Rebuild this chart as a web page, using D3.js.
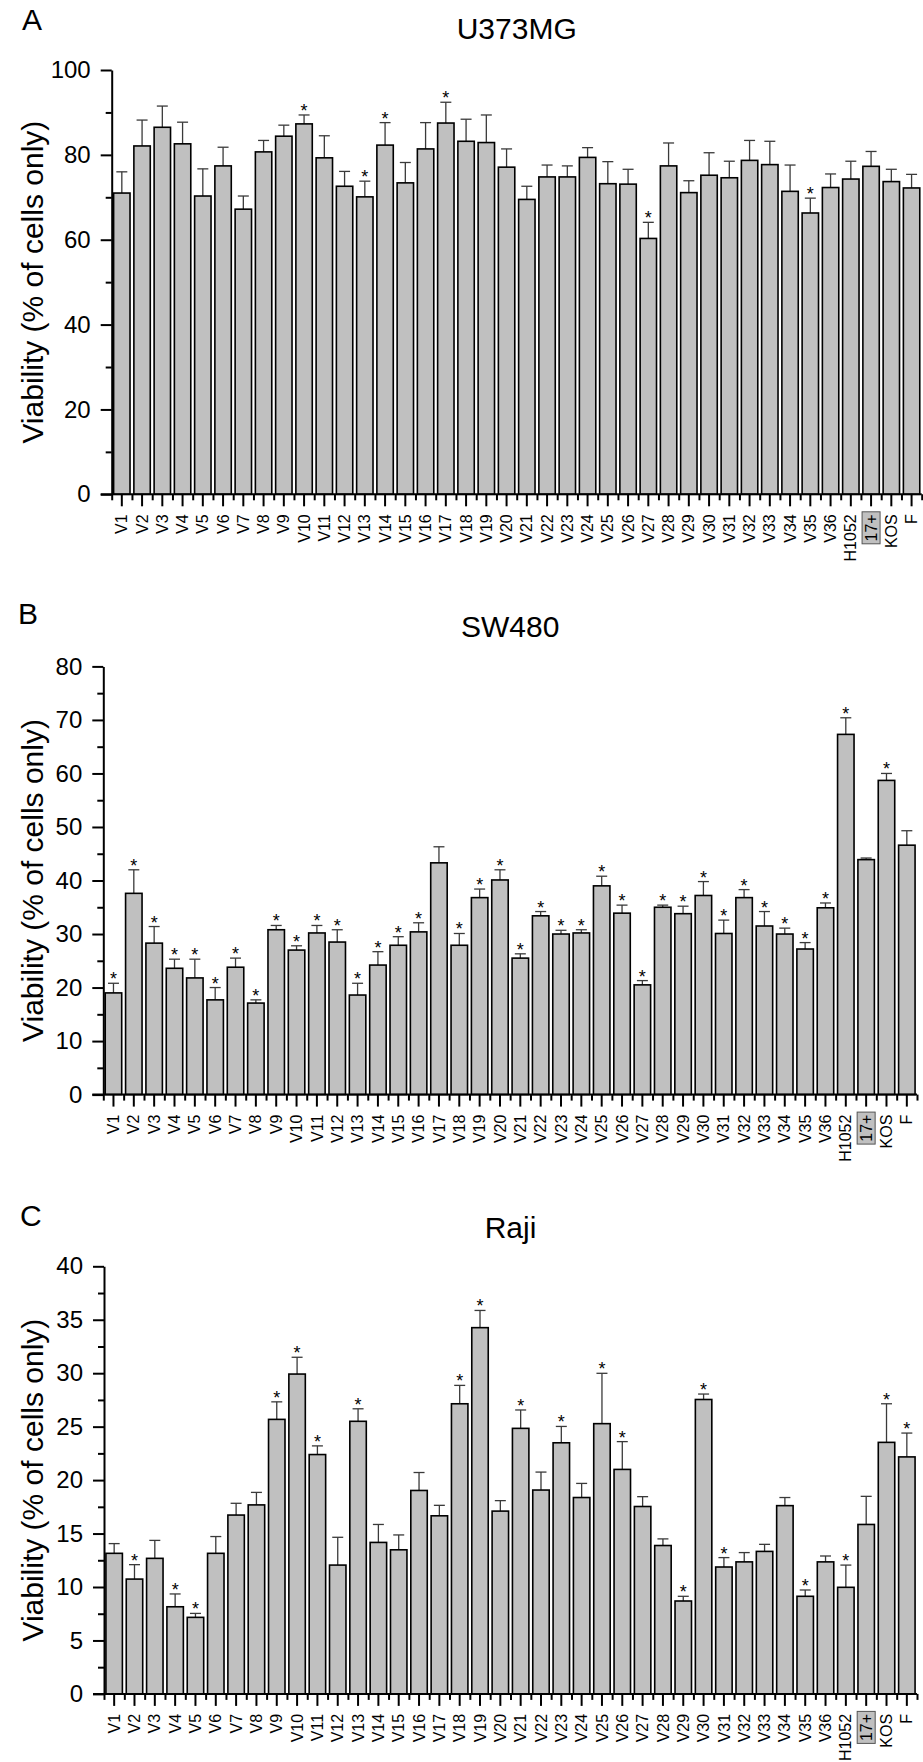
<!DOCTYPE html>
<html>
<head>
<meta charset="utf-8">
<script src="https://cdn.jsdelivr.net/npm/d3@7"></script>
<style>
  body { margin: 0; background: #fff; }
  svg { display: block; font-family: "Liberation Sans", Arial, sans-serif; }
  .bar { fill: #c0c0c0; stroke: #000; stroke-width: 1.6; }
  .err { stroke: #3a3a3a; stroke-width: 1.3; fill: none; }
  .axis path, .axis line { stroke: #000; stroke-width: 2; }
  .minor path { display: none; }
</style>
</head>
<body>
<script>
// categories shared by all three panels
var categories = ["V1","V2","V3","V4","V5","V6","V7","V8","V9","V10","V11","V12","V13","V14","V15","V16","V17","V18",
  "V19","V20","V21","V22","V23","V24","V25","V26","V27","V28","V29","V30","V31","V32","V33","V34","V35","V36",
  "H1052","17+","KOS","F"];

// A: U373MG
var aMean = [71.0,82.1,86.5,82.6,70.3,77.4,67.2,80.7,84.4,87.3,79.3,72.6,70.1,82.3,73.4,81.4,87.5,83.2,
  82.9,77.1,69.5,74.8,74.8,79.4,73.2,73.1,60.3,77.4,71.1,75.2,74.6,78.7,77.7,71.4,66.3,72.3,
  74.3,77.3,73.7,72.2];
var aErr = [5.0,6.1,5.0,5.1,6.4,4.4,3.1,2.7,2.6,2.1,5.2,3.5,3.7,5.3,4.8,6.2,4.9,5.2,
  6.5,4.3,3.1,2.8,2.6,2.3,5.2,3.5,3.8,5.4,2.8,5.3,3.9,4.7,5.5,6.2,3.5,3.2,
  4.2,3.5,2.9,3.2];
var aStars = ["V10","V13","V14","V17","V27","V35"];

// B: SW480
var bMean = [19.0,37.6,28.3,23.6,21.8,17.7,23.8,17.1,30.8,27.0,30.2,28.5,18.6,24.2,27.9,30.4,43.3,27.9,
  36.8,40.1,25.5,33.4,30.0,30.2,39.0,33.9,20.5,35.0,33.8,37.2,30.1,36.8,31.5,30.0,27.2,34.9,
  67.3,43.9,58.7,46.6];
var bErr = [1.8,4.4,3.1,1.7,3.5,2.3,1.7,0.6,0.8,0.8,1.4,2.3,2.2,2.5,1.6,1.7,3.0,2.2,
  1.6,1.9,0.8,0.8,0.7,0.6,1.8,1.5,0.8,0.4,1.4,2.6,2.5,1.5,2.7,1.1,1.2,0.9,
  3.1,0.3,1.3,2.7];
var bStars = ["V1","V2","V3","V4","V5","V6","V7","V8","V9","V10","V11","V12","V13","V14","V15","V16","V18",
  "V19","V20","V21","V22","V23","V24","V25","V26","V27","V28","V29","V30","V31","V32","V33","V34","V35","V36",
  "H1052","KOS"];

// C: Raji
var cMean = [13.15,10.74,12.68,8.15,7.16,13.15,16.73,17.68,25.68,29.92,22.39,12.05,25.5,14.17,13.48,19.03,16.66,27.14,
  34.26,17.1,24.84,19.07,23.49,18.37,25.28,21.0,17.53,13.88,8.69,27.54,11.87,12.35,13.33,17.61,9.13,12.35,
  9.97,15.85,23.53,22.17];
var cErr = [0.91,1.35,1.68,1.2,0.37,1.57,1.1,1.17,1.64,1.57,0.81,2.6,1.17,1.68,1.39,1.68,0.98,1.72,
  1.61,0.98,1.72,1.68,1.53,1.32,4.71,2.6,0.92,0.62,0.44,0.51,0.88,0.87,0.66,0.76,0.59,0.55,
  2.08,2.63,3.61,2.23];
var cStars = ["V2","V4","V5","V9","V10","V11","V13","V18","V19","V21","V23","V25","V26","V29","V30","V31","V35",
  "H1052","KOS","F"];

var boxed = "17+";

var W = 923, H = 1762;
var svg = d3.select("body").append("svg").attr("width", W).attr("height", H);

var panels = [
  {letter: "A", title: "U373MG", mean: aMean, err: aErr, stars: aStars, max: 100, major: 20,
   x0: 111.7, x1: 921.7, top: 70, bot: 494.3, letterX: 22, letterY: 30, titleY: 39},
  {letter: "B", title: "SW480", mean: bMean, err: bErr, stars: bStars, max: 80, major: 10,
   x0: 103.3, x1: 917, top: 666.4, bot: 1094.6, letterX: 18, letterY: 624, titleY: 637},
  {letter: "C", title: "Raji", mean: cMean, err: cErr, stars: cStars, max: 40, major: 5,
   x0: 104, x1: 917, top: 1266.3, bot: 1693.9, letterX: 20, letterY: 1226, titleY: 1238}
];

panels.forEach(function(p) {
  var x = d3.scaleBand().domain(categories).range([p.x0, p.x1]).paddingInner(0.19).paddingOuter(0.095);
  var xEdge = d3.scaleLinear().domain([0, categories.length]).range([p.x0, p.x1]);
  var y = d3.scaleLinear().domain([0, p.max]).range([p.bot, p.top]);
  var g = svg.append("g");

  var data = categories.map(function(c, i) {
    return {name: c, m: p.mean[i], e: p.err[i], star: p.stars.indexOf(c) >= 0};
  });

  // error bars (upper only)
  var eb = g.append("g").selectAll("g").data(data).enter().append("g");
  eb.append("line").attr("class", "err")
    .attr("x1", function(d) { return x(d.name) + x.bandwidth() / 2; })
    .attr("x2", function(d) { return x(d.name) + x.bandwidth() / 2; })
    .attr("y1", function(d) { return y(d.m); })
    .attr("y2", function(d) { return y(d.m + d.e); });
  eb.append("line").attr("class", "err")
    .attr("x1", function(d) { return x(d.name) + x.bandwidth() / 2 - 5.5; })
    .attr("x2", function(d) { return x(d.name) + x.bandwidth() / 2 + 5.5; })
    .attr("y1", function(d) { return y(d.m + d.e); })
    .attr("y2", function(d) { return y(d.m + d.e); });

  g.append("g").selectAll("rect").data(data).enter().append("rect")
    .attr("class", "bar")
    .attr("x", function(d) { return x(d.name); })
    .attr("width", x.bandwidth())
    .attr("y", function(d) { return y(d.m); })
    .attr("height", function(d) { return y(0) - y(d.m); });

  g.append("g").selectAll("text").data(data.filter(function(d) { return d.star; })).enter().append("text")
    .attr("x", function(d) { return x(d.name) + x.bandwidth() / 2; })
    .attr("y", function(d) { return y(d.m + d.e) + 2; })
    .attr("text-anchor", "middle").style("font-size", "18px").text("*");

  // y axis: minor then major
  var minorVals = d3.range(p.major / 2, p.max, p.major);
  g.append("g").attr("class", "axis minor").attr("transform", "translate(" + p.x0 + ",0)")
    .call(d3.axisLeft(y).tickValues(minorVals).tickSize(6).tickSizeOuter(0).tickFormat(""));
  var ya = g.append("g").attr("class", "axis").attr("transform", "translate(" + p.x0 + ",0)")
    .call(d3.axisLeft(y).tickValues(d3.range(0, p.max + 0.001, p.major)).tickSize(11).tickSizeOuter(0).tickPadding(10));
  ya.selectAll("text").style("font-size", "24px").style("font-family", "Liberation Sans, Arial, sans-serif").attr("fill", "#000");

  // x axis: boundary ticks then category ticks
  g.append("g").attr("class", "axis minor").attr("transform", "translate(0," + p.bot + ")")
    .call(d3.axisBottom(xEdge).tickValues(d3.range(0, categories.length + 1)).tickSize(6).tickFormat(""));
  var xa = g.append("g").attr("class", "axis").attr("transform", "translate(0," + p.bot + ")")
    .call(d3.axisBottom(x).tickSize(12).tickSizeOuter(0));
  xa.select(".domain").attr("d", "M" + (p.x0 - 11) + ",0H" + p.x1);
  xa.selectAll("text")
    .attr("transform", "rotate(-90)")
    .attr("x", -20).attr("y", 0).attr("dy", "0.35em")
    .attr("text-anchor", "end").attr("fill", "#000")
    .style("font-size", "16px").style("font-family", "Liberation Sans, Arial, sans-serif");
  xa.selectAll(".tick").filter(function(d) { return d === boxed; })
    .insert("rect", "text")
    .attr("x", -9).attr("y", 17.5).attr("width", 18).attr("height", 32)
    .attr("fill", "#c0c0c0").attr("stroke", "#555").attr("stroke-width", 1);

  // texts
  svg.append("text").attr("x", p.letterX).attr("y", p.letterY).style("font-size", "30px").text(p.letter);
  svg.append("text").attr("x", (p.x0 + p.x1) / 2).attr("y", p.titleY)
    .attr("text-anchor", "middle").style("font-size", "30px").text(p.title);
  svg.append("text")
    .attr("transform", "translate(43," + (p.top + p.bot) / 2 + ") rotate(-90)")
    .attr("text-anchor", "middle").style("font-size", "30px")
    .text("Viability (% of cells only)");
});
</script>
</body>
</html>
